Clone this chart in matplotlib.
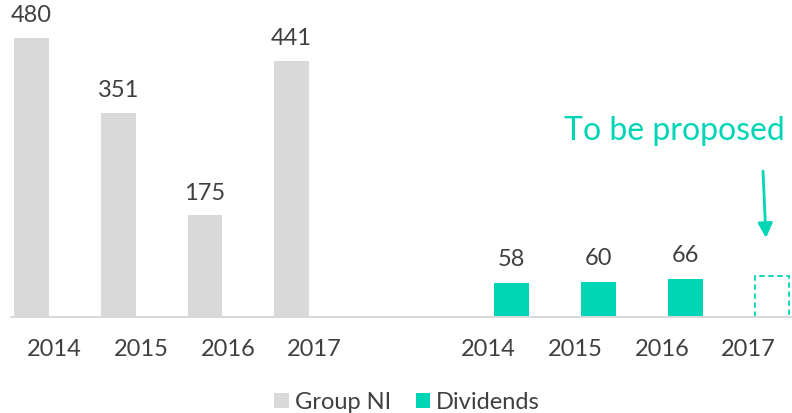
import matplotlib
matplotlib.use("Agg")
import matplotlib.pyplot as plt
from matplotlib.patches import Patch

# data
years = ["2014", "2015", "2016", "2017"]
group_ni = [480, 351, 175, 441]
dividends = [58, 60, 66]
proposed_2017 = 70  # dashed placeholder box

gray = "#D9D9D9"
teal = "#00D5B5"
txt = "#404040"

plt.rcParams["font.family"] = ["Lato", "DejaVu Sans"]

fig = plt.figure(figsize=(7.92, 4.14), dpi=100)
ax = fig.add_axes([11 / 792, 96 / 414, 781 / 792, 318 / 414])

# excel-like clustered layout: 9 categories, one left empty between groups
cat_ni = [0, 1, 2, 3]
cat_div = [5, 6, 7, 8]
w = 0.40
pos_ni = [c - 0.265 for c in cat_ni]
pos_div = [c + 0.27 for c in cat_div]

ax.bar(pos_ni, group_ni, width=w, color=gray)
ax.bar(pos_div[:3], dividends, width=w, color=teal)
ax.bar(pos_div[3], proposed_2017, width=w, facecolor="none", edgecolor=teal,
       linestyle=(0, (3, 2)), linewidth=1.3)

for p, v in zip(pos_ni, group_ni):
    ax.annotate(str(v), (p, v), xytext=(0, 9), textcoords="offset points",
                ha="center", va="bottom", fontsize=17, color=txt)
for p, v in zip(pos_div[:3], dividends):
    ax.annotate(str(v), (p, v), xytext=(0, 10), textcoords="offset points",
                ha="center", va="bottom", fontsize=17, color=txt)

# arrow + note
ax.annotate("", xy=(8.2, 136), xytext=(8.166, 251),
            arrowprops=dict(arrowstyle="-|>", color=teal, lw=2,
                            mutation_scale=22, shrinkA=0, shrinkB=0))
ax.text(7.15, 321, "To be proposed", ha="center", va="center",
        fontsize=23, color=teal)

ax.set_xlim(-0.5, 8.5)
ax.set_ylim(0, 547)
ax.set_xticks(cat_ni + cat_div)
ax.set_xticklabels(years + years, fontsize=17, color=txt)
ax.tick_params(axis="x", length=0, pad=15)
ax.set_yticks([])
for s in ["top", "right", "left"]:
    ax.spines[s].set_visible(False)
ax.spines["bottom"].set_color(gray)
ax.spines["bottom"].set_linewidth(1.5)

handles = [Patch(facecolor=gray, label="Group NI"),
           Patch(facecolor=teal, label="Dividends")]
fig.legend(handles=handles, loc="center", bbox_to_anchor=(0.514, 1 - 403 / 414),
           ncol=2, frameon=False, fontsize=17, labelcolor=txt,
           handlelength=0.62, handleheight=0.62, handletextpad=0.25,
           columnspacing=1.05)

fig.savefig("out.png", dpi=100)
